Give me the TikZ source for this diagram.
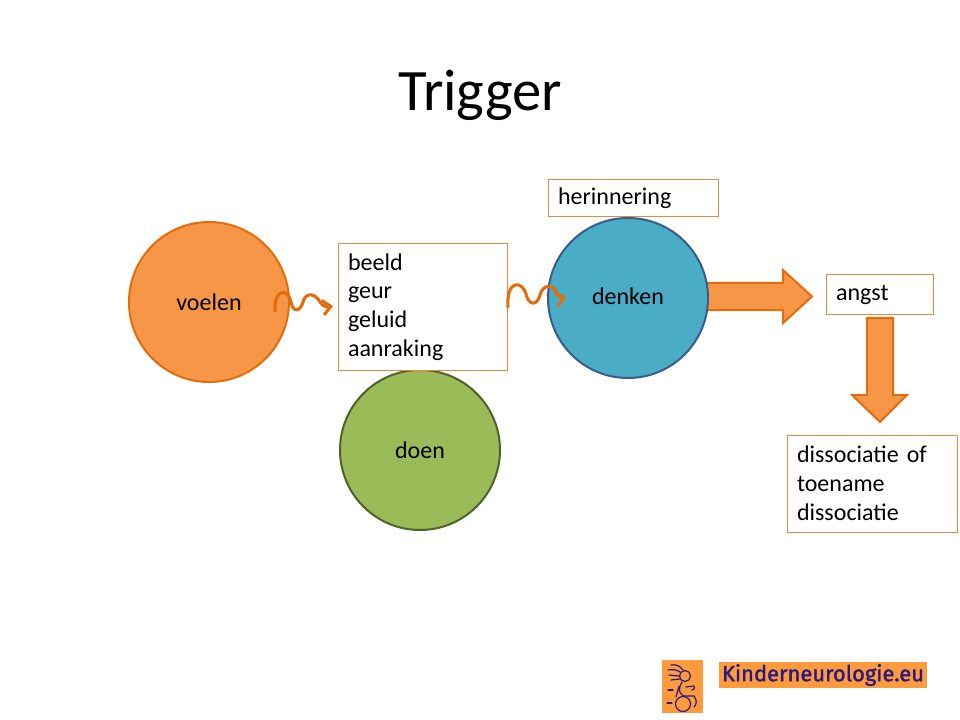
\documentclass[tikz,border=0pt]{standalone}
\usepackage{fontspec}
\setmainfont{Carlito}
\newfontfamily\logofont{Fira Sans}
\definecolor{orfill}{HTML}{F79646}
\definecolor{ordraw}{HTML}{E46C0A}
\definecolor{blfill}{HTML}{4BACC6}
\definecolor{bldraw}{HTML}{385D8A}
\definecolor{grfill}{HTML}{9BBB59}
\definecolor{grdraw}{HTML}{4F6228}
\definecolor{logoor}{HTML}{FF9A3D}
\definecolor{logoblue}{HTML}{2B1A80}
\tikzset{
  bodytext/.style={font=\fontsize{18}{21.6}\selectfont},
  bubble/.style={circle, minimum size=120pt, line width=1.5pt, bodytext, inner sep=0pt},
  textbox/.style={rectangle, draw=ordraw!80, line width=0.75pt, fill=white, bodytext, align=left, inner xsep=7.5pt, inner ysep=0pt},
  squig/.style={draw=ordraw, line width=2.3pt, line cap=round, -{Straight Barb[length=6pt,width=11pt,line width=2.3pt]}},
  blockarrow/.style={fill=orfill, draw=ordraw, line width=1.5pt, line join=miter},
}
\usetikzlibrary{arrows.meta}
\begin{document}
\begin{tikzpicture}[x=0.75pt,y=-0.75pt]
\useasboundingbox (0,0) rectangle (960,720);
\fill[white] (0,0) rectangle (960,720);
% title
\node[font=\fontsize{44}{52}\selectfont] (title) at (480,95) {Trigger};
% block arrows (drawn before circle)
\draw[blockarrow] (690,283) -- (783,283) -- (783,270) -- (812,296.5) -- (783,323) -- (783,310) -- (690,310) -- cycle;
% circles
\node[bubble, fill=orfill, draw=ordraw] (voelen) at (209,302) {voelen};
\node[bubble, fill=blfill, draw=bldraw] (denken) at (628,298) {\raisebox{3pt}{denken}};
\node[bubble, fill=grfill, draw=grdraw] (doen) at (420,450) {doen};
% boxes
\node[textbox, minimum width=126.75pt, minimum height=94.5pt, text width=111.75pt] (zin) at (422.5,307) {beeld\\geur\\geluid\\aanraking};
\node[textbox, minimum width=127.5pt, minimum height=27.75pt, text width=112.5pt] (herinnering) at (633,198.5) {herinnering};
\node[textbox, minimum width=80.25pt, minimum height=29.25pt, text width=65.25pt] (angst) at (879.5,294.5) {angst};
\node[textbox, minimum width=127.5pt, minimum height=72.75pt, text width=112.5pt] (dissoc) at (872,483.5) {dissociatie of\\toename\\dissociatie};
% down arrow
\draw[blockarrow] (867,318) -- (893,318) -- (893,395) -- (907,395) -- (880,422) -- (852,395) -- (867,395) -- cycle;
% squiggly arrows
\coordinate (s1) at (275,311);
\coordinate (e1) at (333,306);
\draw[squig] (s1) .. controls (274,288) and (288,288) .. (291,302) .. controls (293,313) and (300,312) .. (303,302) .. controls (306,291) and (316,294) .. (320,302) .. controls (323,307) and (327,307) .. (e1);
\coordinate (s2) at (508,307);
\coordinate (e2) at (566,297);
\draw[squig] (s2) .. controls (506,280) and (522,280) .. (526,294) .. controls (529,306) and (537,306) .. (540,295) .. controls (543,284) and (553,284) .. (556,292) .. controls (558,297) and (562,298) .. (e2);
% logo
\fill[logoor] (662,660) rectangle (703,713);
\begin{scope}[draw=logoblue, line width=0.9pt, line cap=round]
  \draw (685,676) circle (5.5);
  \draw (671,665) .. controls (676,664) and (680,666) .. (683,670)
        (668,670) .. controls (673,669) and (677,670) .. (680,672)
        (669,675) -- (679,676) (671,680) -- (680,679);
  \draw (682,682) .. controls (677,690) and (680,697) .. (687,696) -- (694,696) .. controls (697,700) and (697,704) .. (694,707);
  \draw (686,687) -- (693,686) .. controls (695,685) and (695,690) .. (692,690);
  \draw (683,704) circle (7.5);
  \draw (668,690) -- (673,690) (667,703) -- (672,703);
  \draw (679,686) -- (676,697);
\end{scope}
\fill[logoor] (719,662) rectangle (927,688);
\node[inner sep=0pt, text=logoblue] (logotext) at (823,675) {\resizebox{202\dimexpr0.75pt\relax}{!}{\logofont\addfontfeature{FakeBold=1.5} Kinderneurologie.eu}};
\end{tikzpicture}
\end{document}
